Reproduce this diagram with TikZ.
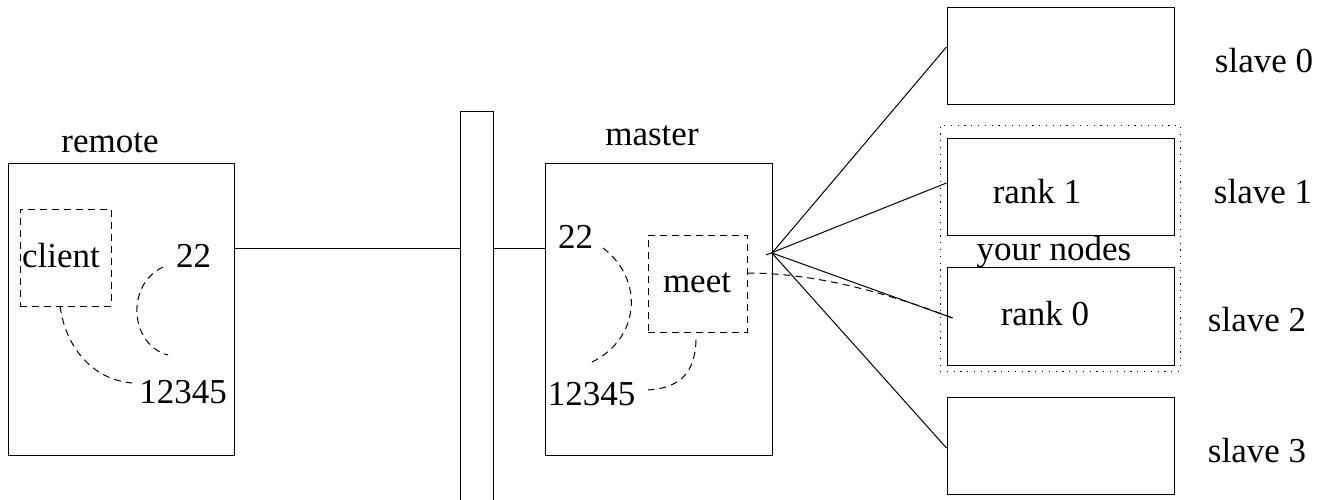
\documentclass[tikz,border=0pt]{standalone}
\usepackage{fontspec}
\setmainfont{Liberation Serif}
\begin{document}
\begin{tikzpicture}[x=1pt,y=-1pt, line width=1pt,
  box/.style={draw, rectangle, inner sep=0pt},
  lbl/.style={anchor=base, inner sep=0pt, font=\fontsize{35}{42}\selectfont},
  dsh/.style={dash pattern=on 7pt off 5pt},
  dotline/.style={dash pattern=on 1.2pt off 5.6pt}]
\useasboundingbox (0,0) rectangle (1329,500);

% remote machine
\node[box, minimum width=226pt, minimum height=292pt] (remote) at (121,309) {};
\node[box, dsh, minimum width=91pt, minimum height=97pt] (client) at (65.5,257.5) {};
\node[lbl] (remotelbl) at (110,152) {remote};
\node[lbl] (clientlbl) at (61,267) {client};
\node[lbl] (r22) at (193.5,267) {22};
\node[lbl] (r12345) at (183,403) {12345};

% firewall bar
\node[minimum width=32pt, minimum height=392pt, inner sep=0pt] (bar) at (477,308) {};
\draw (bar.south west) |- (bar.north east) -- (bar.south east);

% master machine
\node[box, minimum width=227pt, minimum height=292pt] (master) at (658.5,309) {};
\node[box, dsh, minimum width=99pt, minimum height=97pt] (meet) at (697.5,283.5) {};
\node[lbl] (masterlbl) at (652,145) {master};
\node[lbl] (meetlbl) at (697,292) {meet};
\node[lbl] (m22) at (575.5,248) {22};
\node[lbl] (m12345) at (591.5,405) {12345};

% slaves
\node[box, minimum width=227pt, minimum height=97pt] (slave0) at (1060.5,56.5) {};
\node[box, minimum width=227pt, minimum height=97pt] (slave1) at (1060.5,186.5) {};
\node[box, minimum width=227pt, minimum height=98pt] (slave2) at (1060.5,316) {};
\node[box, minimum width=227pt, minimum height=97pt] (slave3) at (1060.5,445.5) {};
\node[draw, dotline, rectangle, inner sep=0pt, minimum width=240pt, minimum height=246pt] (yours) at (1060,248) {};
\node[lbl] (rank1) at (1037,203) {rank 1};
\node[lbl] (rank0) at (1045,325) {rank 0};
\node[lbl] (yourlbl) at (1054,260) {your nodes};
\node[lbl] (s0lbl) at (1264,73) {slave 0};
\node[lbl] (s1lbl) at (1263,203) {slave 1};
\node[lbl] (s2lbl) at (1257,331) {slave 2};
\node[lbl] (s3lbl) at (1257,462) {slave 3};

% network links
\coordinate (link) at (0,248);
\draw (remote.east |- link) -- (bar.west |- link);
\draw (bar.east |- link) -- (master.west |- link);

\coordinate (apex) at (772,253);
\draw (apex) -- ([yshift=9.5pt]slave0.west);
\draw ([shift={(-6pt,-2pt)}]apex) -- ([yshift=3.5pt]slave1.west);
\draw (apex) -- ([shift={(6pt,-2pt)}]slave2.west);
\draw (apex) -- ([yshift=-2.5pt]slave3.west);

% dashed tunnels
\coordinate (c1) at (60,306);
\coordinate (c2) at (132,383);
\draw[dsh] (c1) .. controls (66,350) and (95,380) .. (c2);
\coordinate (c3) at (163,267);
\coordinate (c4) at (168,355);
\draw[dsh] (c3) .. controls (125,285) and (130,345) .. (c4);
\coordinate (c5) at (603,248);
\coordinate (c6) at (590,363);
\draw[dsh] (c5) .. controls (645,280) and (640,340) .. (c6);
\coordinate (c7) at (696,340);
\coordinate (c8) at (648,390);
\draw[dsh] (c7) .. controls (695,375) and (678,388) .. (c8);
\draw[dsh] ([yshift=10.5pt]meet.east) .. controls (810,273) and (880,290) .. ([shift={(6pt,-2pt)}]slave2.west);
\end{tikzpicture}
\end{document}
